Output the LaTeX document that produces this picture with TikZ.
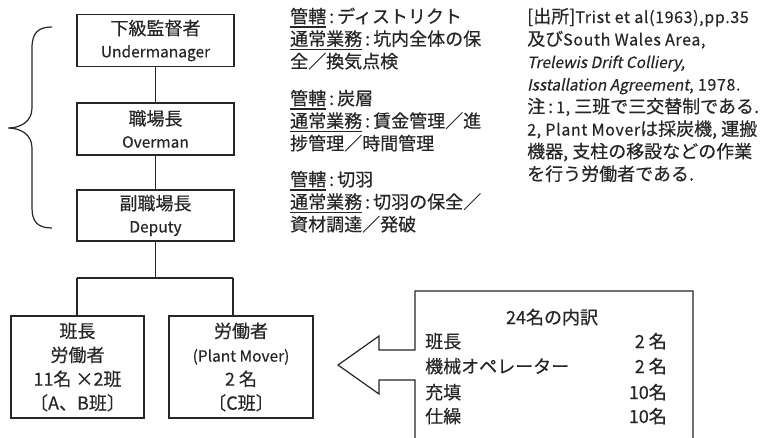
\documentclass[tikz,border=0pt]{standalone}
\usepackage{fontspec}
\setmainfont[FakeBold=0.4]{Noto Sans CJK JP}
\newfontfamily\jpit[FakeSlant=0.2,FakeBold=0.4]{Noto Sans CJK JP}
\newfontfamily\jpls[LetterSpace=4,FakeBold=0.4]{Noto Sans CJK JP}
\newcommand\lt[1]{{\fontsize{15.5}{22.5}\selectfont #1}}
\newcommand\lts[1]{{\jpls\fontsize{16}{22.5}\selectfont #1}}
\newcommand\ulx[1]{\setbox0\hbox{#1}\rlap{\rule[-4.5pt]{\wd0}{1.1pt}}\box0}
\newcommand\cln{\,:\,}
\begin{document}
\begin{tikzpicture}[x=1pt,y=-1pt,
  ln/.style={line width=1.2pt,draw=black!85},
  box/.style={ln,rectangle,inner sep=0pt,align=center,text=black!85,
    font=\fontsize{18}{22.5}\selectfont},
  txt/.style={inner sep=0pt,align=left,text=black!85,
    font=\fontsize{18}{22.5}\selectfont}]
\useasboundingbox (0,0) rectangle (760,437);
% hierarchy boxes
\node[box,minimum width=157pt,minimum height=52pt] (b1) at (155.5,40.5) {下級監督者\\\lt{Undermanager}};
\node[box,minimum width=157pt,minimum height=52pt] (b2) at (155.5,129) {職場長\\\lt{Overman}};
\node[box,minimum width=157pt,minimum height=51pt] (b3) at (155.5,215.5) {副職場長\\\lt{Deputy}};
\node[box,minimum width=133pt,minimum height=102pt,font=\fontsize{18}{24}\selectfont] (b4) at (77.5,367) {班長\\労働者\\11名 ×2班\\〔A、B班〕};
\node[box,minimum width=144pt,minimum height=102pt,font=\fontsize{18}{24}\selectfont] (b5) at (241,367) {労働者\\\lt{(Plant Mover)}\\2 名\\〔C班〕};
\draw[ln] (b1.south) -- (b2.north);
\draw[ln] (b2.south) -- (b3.north);
\coordinate (j) at (155.5,278);
\coordinate (jl) at (77,278);
\coordinate (jr) at (233,278);
\draw[ln] (b3.south) -- (j);
\draw[ln] (jl) -- (jr);
\draw[ln] (jl) -- (jl |- b4.north);
\draw[ln] (jr) -- (jr |- b5.north);
% brace
\draw[ln] (52,27) .. controls (38,27) and (32,33) .. (32,48) -- (32,108)
  .. controls (32,122) and (20,128) .. (8,128)
  .. controls (20,128) and (32,134) .. (32,148) -- (32,208)
  .. controls (32,222) and (38,228) .. (52,228);
% duties text (anchored at last line's baseline)
\node[txt,anchor=base west] (d1) at (290,68) {\ulx{管轄}\cln ディストリクト\\\ulx{通常業務}\cln 坑内全体の保\\全／換気点検};
\node[txt,anchor=base west] (d2) at (290,150) {\ulx{管轄}\cln 炭層\\\ulx{通常業務}\cln 賃金管理／進\\捗管理／時間管理};
\node[txt,anchor=base west] (d3) at (290,231) {\ulx{管轄}\cln 切羽\\\ulx{通常業務}\cln 切羽の保全／\\資材調達／発破};
% source text
\node[txt,anchor=base west] (src) at (527,180.5) {[出所]\lts{Trist et al(1963),pp.35}\\及び\lts{South Wales Area,}\\\lt{\jpit Trelewis Drift Colliery,}\\\lt{\jpit Isstallation Agreement}\lts{, 1978.}\\注\cln\lts{1,} 三班で三交替制である.\\\lts{2, Plant Mover}は採炭機, 運搬\\機器, 支柱の移設などの作業\\を行う労働者である.};
% callout box with arrow
\draw[ln,fill=white] (415,440) -- (415,380) -- (379,380) -- (379,394) -- (338,365)
  -- (379,336) -- (379,350) -- (415,350) -- (415,291) -- (693,291) -- (693,440);
\node[txt,anchor=base] (h) at (552,324) {24名の内訳};
\node[txt,anchor=base west] (r1) at (425,348) {班長};
\node[txt,anchor=base west] (r2) at (425,373) {機械オペレーター};
\node[txt,anchor=base west] (r3) at (425,399) {充填};
\node[txt,anchor=base west] (r4) at (425,423) {仕繰};
\node[txt,anchor=base east] (n1) at (667,348) {2 名};
\node[txt,anchor=base east] (n2) at (667,373) {2 名};
\node[txt,anchor=base east] (n3) at (667,399) {10名};
\node[txt,anchor=base east] (n4) at (667,423) {10名};
\end{tikzpicture}
\end{document}
